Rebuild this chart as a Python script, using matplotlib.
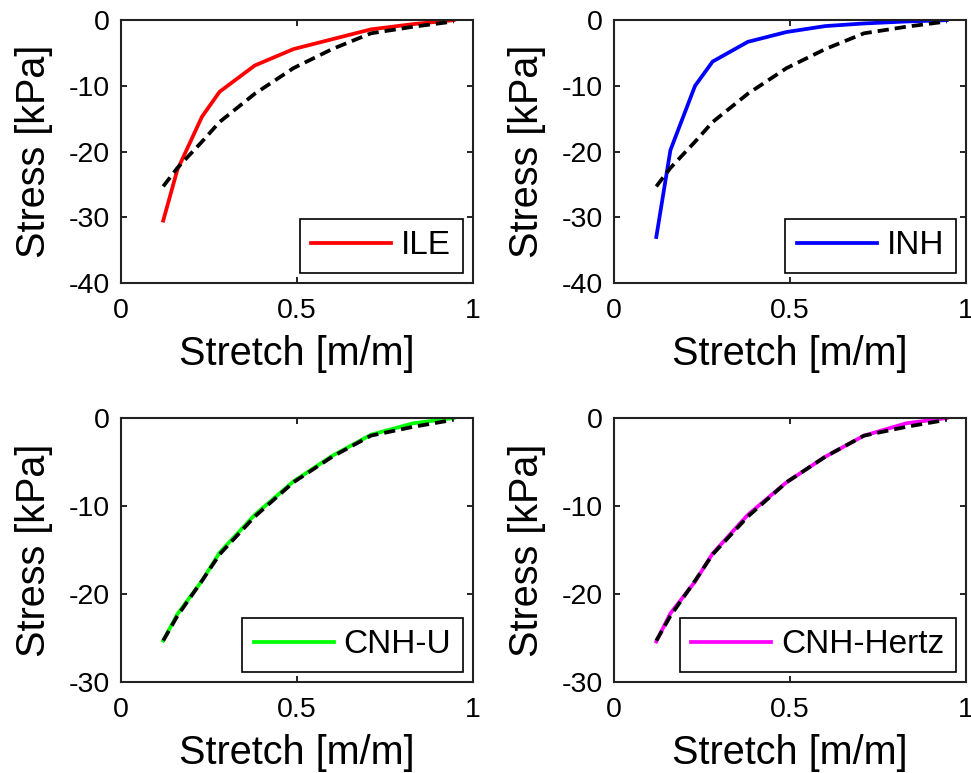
import matplotlib
matplotlib.use("Agg")
import matplotlib.pyplot as plt

plt.rcParams['font.family'] = ['Liberation Sans', 'DejaVu Sans']
plt.rcParams['axes.unicode_minus'] = False

# Stretch values (shared by all curves)
stretch = [0.12, 0.16, 0.23, 0.28, 0.38, 0.49, 0.60, 0.71, 0.83, 0.945]

# experimental curve (dashed black)
exp_stress = [-25.3, -22.5, -18.5, -15.5, -11.2, -7.3, -4.4, -2.0, -1.0, -0.2]

# model curves
ile = [-30.5, -22.8, -14.7, -10.9, -6.9, -4.4, -2.9, -1.4, -0.6, 0.0]
inh = [-33.0, -19.8, -10.0, -6.3, -3.3, -1.8, -0.9, -0.5, -0.2, 0.0]
cnh_u = [-25.3, -22.3, -18.5, -15.3, -11.0, -7.2, -4.3, -1.9, -0.6, 0.0]
cnh_hertz = [-25.4, -22.2, -18.6, -15.4, -11.0, -7.3, -4.4, -2.0, -0.6, 0.0]

models = [("ILE", ile, "#ff0000"), ("INH", inh, "#0000ff"),
          ("CNH-U", cnh_u, "#00ff00"), ("CNH-Hertz", cnh_hertz, "#ff00ff")]
ylims = [(-40, 0), (-40, 0), (-30, 0), (-30, 0)]
yticks = [[-40, -30, -20, -10, 0], [-40, -30, -20, -10, 0],
          [-30, -20, -10, 0], [-30, -20, -10, 0]]

fig = plt.figure(figsize=(9.71, 7.73), dpi=100)
positions = [[0.1246, 0.6339, 0.3625, 0.3400], [0.6324, 0.6339, 0.3625, 0.3400],
             [0.1246, 0.1177, 0.3625, 0.3415], [0.6324, 0.1177, 0.3625, 0.3415]]

for i, (name, vals, col) in enumerate(models):
    ax = fig.add_axes(positions[i])
    ax.plot(stretch, vals, color=col, lw=2.7, label=name)
    ax.plot(stretch, exp_stress, color="black", lw=2.7, ls="--", dashes=(3.0, 1.6))
    ax.set_xlim(0, 1)
    ax.set_ylim(*ylims[i])
    ax.set_xticks([0, 0.5, 1])
    ax.set_xticklabels(["0", "0.5", "1"])
    ax.set_yticks(yticks[i])
    ax.tick_params(direction="in", length=4, width=1.2, top=True, right=True,
                   labelsize=20.5)
    ax.tick_params(axis="x", pad=11)
    ax.tick_params(axis="y", pad=8)
    for s in ax.spines.values():
        s.set_linewidth(1.5)
        s.set_color("#222222")
    ax.set_xlabel("Stretch [m/m]", fontsize=28.5, labelpad=8)
    ax.set_ylabel("Stress [kPa]", fontsize=28.5, labelpad=11)
    leg = ax.legend(loc="lower right", fontsize=24, handlelength=2.4,
                    handletextpad=0.3, borderpad=0.35, borderaxespad=0.3,
                    fancybox=False, framealpha=1)
    leg.get_frame().set_edgecolor("black")
    leg.get_frame().set_linewidth(1.2)

fig.savefig("out.png", dpi=100)
